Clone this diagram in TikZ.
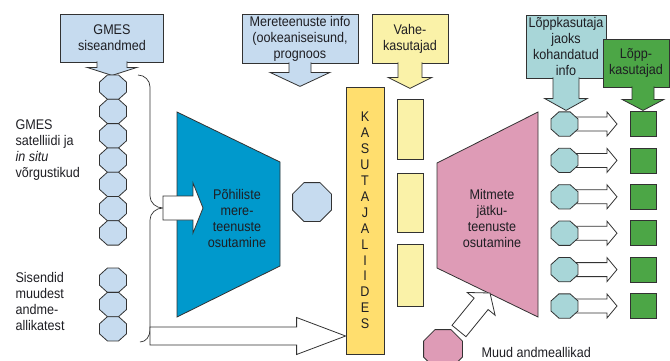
\documentclass[tikz,border=0pt]{standalone}
\usepackage{fontspec}
\setmainfont[FakeStretch=0.9]{Liberation Sans}
\usepackage{tikz}
\usetikzlibrary{shapes.geometric}
\usetikzlibrary{calc}
\definecolor{lightblue}{RGB}{198,219,239}
\definecolor{oceanblue}{RGB}{0,153,204}
\definecolor{baryellow}{RGB}{255,222,110}
\definecolor{paleyellow}{RGB}{250,242,168}
\definecolor{pinkc}{RGB}{222,155,182}
\definecolor{tealc}{RGB}{168,214,216}
\definecolor{greenc}{RGB}{76,166,70}
\definecolor{linegray}{RGB}{50,50,50}
\definecolor{textdark}{RGB}{30,30,35}
% down arrow under a callout box: start, stem half, wing half, stem length, head length, fill
\newcommand*{\callarrow}[6]{%
  \draw[outline,fill=#6] ($(#1)+(-#2,-1)$) -- ++(0,#4+1) -- ++(#2-#3,0) -- ++(#3,#5) -- ++(#3,-#5) -- ++(#2-#3,0) -- ++(0,-#4-1);}
% block arrow: tail, tip, shaft half, head half, head length, fill
\newcommand*{\blockarrow}[6]{%
  \coordinate (#1-hb) at ($(#2)!#5pt!(#1)$);
  \draw[outline,fill=#6] ($(#1)!#3pt!-90:(#2)$) -- ($(#1-hb)!#3pt!-90:(#2)$) -- ($(#1-hb)!#4pt!-90:(#2)$) -- (#2)
    -- ($(#1-hb)!#4pt!90:(#2)$) -- ($(#1-hb)!#3pt!90:(#2)$) -- ($(#1)!#3pt!90:(#2)$) -- cycle;}

\begin{document}
\begin{tikzpicture}[x=1pt,y=-1pt]
\tikzset{outline/.style={draw=linegray,line width=0.8pt},
  txt/.style={font=\fontsize{14}{16}\selectfont,text=textdark,align=center},
  box/.style={outline,txt,inner sep=0pt},
  oct/.style={outline,regular polygon,regular polygon sides=8,inner sep=0pt,minimum size=26.3pt,xscale=1.11,transform shape},
  bigoct/.style={outline,regular polygon,regular polygon sides=8,inner sep=0pt,minimum size=42pt}}

    \useasboundingbox (0,0) rectangle (670,360);

    % callouts on top
    \node[box,fill=lightblue,minimum width=103pt,minimum height=48pt] (gmes) at (112,38) {GMES\\siseandmed};
    \callarrow{gmes.south}{15}{25}{5}{8}{lightblue}
    \node[box,fill=lightblue,minimum width=116pt,minimum height=49pt] (mere) at (300,38.5) {Mereteenuste info\\(ookeaniseisund,\\prognoos};
    \callarrow{mere.south}{11}{30}{9}{14}{lightblue}
    \node[box,fill=paleyellow,minimum width=76pt,minimum height=49pt] (vahe) at (410,38.5) {Vahe-\\kasutajad};
    \callarrow{vahe.south}{12}{22}{14}{11}{paleyellow}
    \node[box,fill=tealc,minimum width=80pt,minimum height=63pt] (lkinfo) at (566,46.5) {Lõppkasutaja\\jaoks\\kohandatud\\info};
    \callarrow{lkinfo.south}{13}{21.5}{20}{12}{tealc}

    % left labels
    \node[txt,align=left,anchor=west] (satin) at (12,150) {GMES\\satelliidi ja\\\textit{in situ}\\võrgustikud};
    \node[txt,align=left,anchor=west] (other) at (12,301) {Sisendid\\muudest\\andme-\\allikatest};

    % brace
    \coordinate (bracetip) at (163,208);
    \draw[outline,line width=0.7pt] (138,75) to[out=0,in=90] (150,87) -- (150,196) to[out=-90,in=180] (bracetip)
      to[out=180,in=90] (150,220) -- (150,330) to[out=-90,in=0] (140,342);

    % octagon columns
    \foreach \i in {1,...,7}
      \node[oct,fill=lightblue] (sat\i) at (113,{87.15+24.3*(\i-1)}) {};
    \foreach \i in {1,2,3}
      \node[oct,fill=lightblue] (oth\i) at (113,{280.2+24.3*(\i-1)}) {};

    % basic services
    \draw[outline,fill=oceanblue] (177,112) -- (280,162) -- (280,266) -- (177,317) -- cycle;
    \node[txt] (pohi) at (237,218) {Põhiliste\\mere-\\teenuste\\osutamine};
    \coordinate (pohiin) at (203,208);
    \blockarrow{bracetip}{pohiin}{12}{25}{10}{white}
    \node[bigoct,fill=lightblue] (mid) at (312,202) {};

    % interfaces
    \node[outline,fill=baryellow,minimum width=38pt,minimum height=267pt,inner sep=0pt,
      font=\fontsize{14}{15.9}\selectfont,text=textdark,align=center] (ui) at (365,220.5)
      {K\\A\\S\\U\\T\\A\\J\\A\\L\\I\\I\\D\\E\\S};
    \node[outline,fill=paleyellow,minimum width=26pt,minimum height=60pt,inner sep=0pt] (vk1) at (410,129) {};
    \node[outline,fill=paleyellow,minimum width=26pt,minimum height=59pt,inner sep=0pt] (vk2) at (410,202.5) {};
    \node[outline,fill=paleyellow,minimum width=26pt,minimum height=62pt,inner sep=0pt] (vk3) at (410,275) {};

    \coordinate (lowtail) at (150,336);
    \coordinate (lowtip) at (ui.west |- lowtail);
    \blockarrow{lowtail}{lowtip}{9}{18.5}{49}{white}

    % downstream services
    \draw[outline,fill=pinkc] (437,163) -- (538,112) -- (538,317) -- (437,268) -- cycle;
    \node[txt] (jatku) at (492,218.5) {Mitmete\\jätku-\\teenuste\\osutamine};
    \node[bigoct,fill=pinkc] (muud) at (443,349) {};
    \coordinate (diagtail) at (459,331);
    \coordinate (diagtip) at (490,293);
    \blockarrow{diagtail}{diagtip}{9}{18}{14}{white}
    \node[txt,anchor=base west] (muudlbl) at (478,357) {Muud andmeallikad};

    % end users
    \foreach \i in {1,...,6}{
      \pgfmathsetmacro\y{124+36.4*(\i-1)}
      \coordinate (ta\i) at (565,\y);
      \coordinate (tb\i) at (617,\y);
      \blockarrow{ta\i}{tb\i}{7}{12}{10}{white}
      \node[oct,fill=tealc] (toct\i) at (564.5,\y) {};
      \node[outline,fill=greenc,minimum width=26pt,minimum height=25pt,inner sep=0pt] (sq\i) at (643,\y) {};
    }
    \node[box,fill=greenc,minimum width=66pt,minimum height=48pt] (lk) at (636,63) {Lõpp-\\kasutajad};
    \coordinate (lkout) at (lk.south -| sq1);
    \callarrow{lkout}{11}{21}{12}{11}{greenc}
\end{tikzpicture}
\end{document}
